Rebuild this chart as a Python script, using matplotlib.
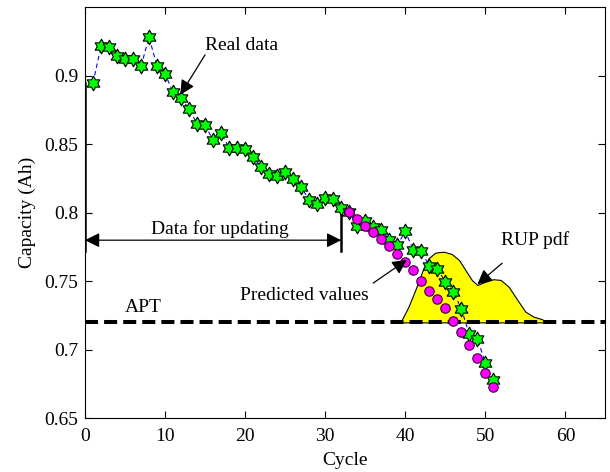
import numpy as np
import matplotlib
matplotlib.use("Agg")
import matplotlib.pyplot as plt
from matplotlib.path import Path
from matplotlib.ticker import FormatStrFormatter

plt.rcParams['font.family'] = ['Liberation Serif', 'DejaVu Serif']

# datos reales (ciclos 1..51)
real_cycles = list(range(1, 52))
real_cap = [0.8947, 0.9214, 0.9210, 0.9141, 0.9122, 0.9122, 0.9068, 0.9283, 0.9068, 0.9015,
            0.8878, 0.8837, 0.8757, 0.8650, 0.8642, 0.8528, 0.8582, 0.8472, 0.8472, 0.8465,
            0.8407, 0.8334, 0.8285, 0.8265, 0.8294, 0.8246, 0.8185, 0.8095, 0.8064, 0.8108,
            0.8100, 0.8035, 0.8005, 0.7900, 0.7940, 0.7896, 0.7876, 0.7803, 0.7763, 0.7864,
            0.7728, 0.7718, 0.7612, 0.7590, 0.7497, 0.7422, 0.7299, 0.7112, 0.7081, 0.6903,
            0.6777]

# valores predichos (ciclos 33..51)
pred_cycles = list(range(33, 52))
pred_cap = [0.8003, 0.7957, 0.7901, 0.7860, 0.7811, 0.7755, 0.7701, 0.7641, 0.7580, 0.7504,
            0.7431, 0.7371, 0.7305, 0.7207, 0.7127, 0.7035, 0.6938, 0.6833, 0.6726]

# contorno de la pdf del RUP (dibujada sobre el umbral)
pdf_cycles = [39.4, 40.4, 41.25, 42.1, 42.9, 43.75, 44.8, 45.8, 46.7, 47.5, 48.3, 49.0,
              50.0, 51.0, 51.9, 52.9, 54.0, 55.0, 56.0, 57.1, 57.5]
pdf_cap = [0.7200, 0.7315, 0.7437, 0.7570, 0.7668, 0.7709, 0.7716, 0.7699, 0.7656, 0.7583,
           0.7510, 0.7473, 0.7497, 0.7515, 0.7510, 0.7461, 0.7364, 0.7278, 0.7242, 0.7223,
           0.7200]

apt = 0.72
update_end = 32
arrow_y = 0.78

fig = plt.figure(figsize=(6.1, 4.72), dpi=100)
ax = fig.add_axes([0.1393, 0.1138, 0.8533, 0.8708])

hexagram = Path.unit_regular_star(6, 0.577)

ax.fill_between(pdf_cycles, apt, pdf_cap, facecolor='#FFFF00', edgecolor='black', linewidth=0.8, zorder=2)
ax.axhline(apt, color='black', linewidth=2.9, linestyle=(0, (3.24, 1.5)), zorder=3)

ax.plot(real_cycles, real_cap, linestyle='--', color='blue', linewidth=0.8,
        dashes=(4, 3), marker=hexagram, markersize=10.5, markerfacecolor='#00FF00',
        markeredgecolor='black', markeredgewidth=0.8, zorder=4)
ax.plot(pred_cycles, pred_cap, linestyle='none', marker='o', markersize=6.8,
        markerfacecolor='#FF00FF', markeredgecolor='#400040', markeredgewidth=0.8, zorder=5)

# corchete de datos para actualizar
ax.plot([0, 0], [0.772, 0.895], color='black', linewidth=1.8, zorder=3)
ax.plot([update_end, update_end], [0.772, 0.8], color='black', linewidth=1.8, zorder=3)
ax.annotate('', xy=(0, arrow_y), xytext=(update_end, arrow_y),
            arrowprops=dict(arrowstyle='<|-|>', color='black', lw=0.9,
                            mutation_scale=22, shrinkA=0, shrinkB=0))
ax.text(16.9, 0.7883, 'Data for updating', fontsize=14, ha='center', va='center')

arr = dict(arrowstyle='-|>', color='black', lw=0.9, mutation_scale=22, shrinkA=0, shrinkB=0)
ax.annotate('', xy=(11.9, 0.8861), xytext=(15.0, 0.9153), arrowprops=arr, zorder=6)
ax.text(15.0, 0.922, 'Real data', fontsize=14, ha='left', va='center')

ax.annotate('', xy=(40.2, 0.7657), xytext=(36.0, 0.7487), arrowprops=arr, zorder=6)
ax.text(27.4, 0.7394, 'Predicted values', fontsize=14, ha='center', va='center')

ax.annotate('', xy=(49.0, 0.7478), xytext=(52.1, 0.7632), arrowprops=arr, zorder=6)
ax.text(56.2, 0.7803, 'RUP pdf', fontsize=14, ha='center', va='center')

ax.text(7.3, 0.7306, 'APT', fontsize=14, ha='center', va='center')

ax.set_xlim(0, 65)
ax.set_ylim(0.65, 0.95)
ax.set_xticks([0, 10, 20, 30, 40, 50, 60])
ax.set_yticks([0.65, 0.7, 0.75, 0.8, 0.85, 0.9])
ax.yaxis.set_major_formatter(FormatStrFormatter('%g'))
ax.tick_params(direction='in', top=True, right=True, length=5, width=0.8,
               labelsize=14, pad=5)
ax.tick_params(axis='x', pad=7)
for s in ax.spines.values():
    s.set_linewidth(0.8)

ax.set_xlabel('Cycle', fontsize=14, labelpad=5)
ax.set_ylabel('Capacity (Ah)', fontsize=14, labelpad=6)

fig.savefig('out.png', dpi=100)
